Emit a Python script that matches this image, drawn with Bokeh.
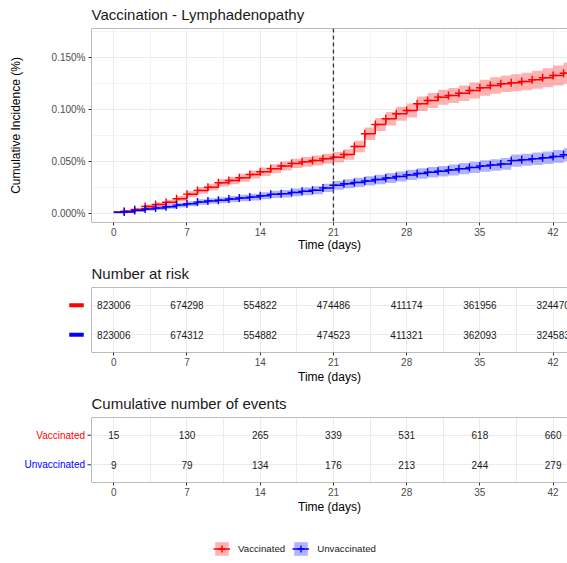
from bokeh.plotting import figure
from bokeh.models import (Range1d, FixedTicker, PrintfTickFormatter, Span,
                          Legend, LegendItem, ColumnDataSource)
from bokeh.layouts import column, row
from bokeh.embed import file_html
from bokeh.resources import INLINE

FONT = "Liberation Sans"
RED = "#FF0000"
BLUE = "#0000FF"

# ---------------- data ----------------
days = list(range(45))
vacc_ci = [0.0017, 0.0027, 0.0043, 0.0072, 0.0091, 0.0113, 0.0146, 0.0190, 0.0226, 0.0257,
           0.0299, 0.0321, 0.0347, 0.0379, 0.0405, 0.0435, 0.0460, 0.0485, 0.0500, 0.0513,
           0.0530, 0.0545, 0.0571, 0.0648, 0.0770, 0.0859, 0.0914, 0.0962, 0.0993, 0.1058,
           0.1089, 0.1121, 0.1137, 0.1159, 0.1185, 0.1211, 0.1233, 0.1250, 0.1259, 0.1272,
           0.1288, 0.1307, 0.1329, 0.1351, 0.1360]
vacc_hw = [0.0010, 0.0012, 0.0015, 0.0019, 0.0021, 0.0024, 0.0026, 0.0029, 0.0031, 0.0033,
           0.0035, 0.0036, 0.0038, 0.0039, 0.0041, 0.0042, 0.0044, 0.0045, 0.0046, 0.0047,
           0.0048, 0.0049, 0.0051, 0.0055, 0.0060, 0.0063, 0.0065, 0.0067, 0.0068, 0.0070,
           0.0071, 0.0072, 0.0073, 0.0074, 0.0076, 0.0077, 0.0079, 0.0080, 0.0082, 0.0084,
           0.0087, 0.0091, 0.0096, 0.0101, 0.0104]
unvacc_ci = [0.0017, 0.0019, 0.0034, 0.0047, 0.0056, 0.0069, 0.0085, 0.0098, 0.0114, 0.0124,
             0.0132, 0.0143, 0.0153, 0.0162, 0.0175, 0.0188, 0.0195, 0.0207, 0.0217, 0.0227,
             0.0250, 0.0275, 0.0290, 0.0303, 0.0317, 0.0331, 0.0345, 0.0360, 0.0375, 0.0388,
             0.0400, 0.0410, 0.0422, 0.0435, 0.0447, 0.0460, 0.0470, 0.0480, 0.0512, 0.0520,
             0.0530, 0.0540, 0.0552, 0.0568, 0.0575]
unvacc_hw = [0.0010, 0.0011, 0.0014, 0.0016, 0.0018, 0.0020, 0.0022, 0.0024, 0.0026, 0.0027,
             0.0028, 0.0030, 0.0031, 0.0032, 0.0033, 0.0035, 0.0036, 0.0037, 0.0038, 0.0039,
             0.0040, 0.0042, 0.0043, 0.0044, 0.0045, 0.0046, 0.0047, 0.0048, 0.0049, 0.0050,
             0.0051, 0.0051, 0.0052, 0.0053, 0.0054, 0.0055, 0.0056, 0.0056, 0.0058, 0.0058,
             0.0059, 0.0060, 0.0061, 0.0063, 0.0064]
second_dose_day = 21

x_ticks = [0, 7, 14, 21, 28, 35, 42]
x_minor = [3.5, 10.5, 17.5, 24.5, 31.5, 38.5]
y_ticks = [0, 0.05, 0.10, 0.15]
y_minor = [0.025, 0.075, 0.125, 0.175]

table_days = [0, 7, 14, 21, 28, 35, 42]
risk_vacc = [823006, 674298, 554822, 474486, 411174, 361956, 324470]
risk_unvacc = [823006, 674312, 554882, 474523, 411321, 362093, 324583]
events_vacc = [15, 130, 265, 339, 531, 618, 660]
events_unvacc = [9, 79, 134, 176, 213, 244, 279]
groups = ["Vaccinated", "Unvaccinated"]
group_colors = [RED, BLUE]

# ---------------- layout constants ----------------
W = 567
LEFT = 91
PX_PER_DAY = 10.46
X_START = -2.13
X_END = X_START + (W - LEFT) / PX_PER_DAY
BORDER = "#7a7a7a"
GRID = "#EBEBEB"
MINOR = "#F3F3F3"
TICKLAB = "#4D4D4D"
TXT = "#1a1a1a"


def style_xaxis(p, title_standoff):
    p.xaxis.ticker = FixedTicker(ticks=x_ticks, minor_ticks=x_minor)
    ax = p.xaxis[0]
    ax.axis_line_color = None
    ax.major_tick_line_color = "#333333"
    ax.major_tick_out = 3
    ax.major_tick_in = 0
    ax.minor_tick_line_color = None
    ax.major_label_text_font = FONT
    ax.major_label_text_font_size = "10px"
    ax.major_label_text_color = TICKLAB
    ax.major_label_standoff = 1
    ax.axis_label = "Time (days)"
    ax.axis_label_text_font = FONT
    ax.axis_label_text_font_size = "12px"
    ax.axis_label_text_font_style = "normal"
    ax.axis_label_text_color = "black"
    ax.axis_label_standoff = title_standoff
    p.xgrid.grid_line_color = GRID
    p.ygrid.grid_line_color = GRID


def style_title(p):
    p.title.text_font = FONT
    p.title.text_font_size = "15px"
    p.title.text_font_style = "normal"
    p.title.text_color = TXT
    p.title.vertical_align = "top"
    p.title.standoff = 8


def borders(p, y_range):
    p.outline_line_color = None
    p.add_layout(Span(location=X_START, dimension="height", line_color=BORDER, line_width=1))
    p.add_layout(Span(location=y_range.start, dimension="width", line_color=BORDER, line_width=1))
    p.add_layout(Span(location=y_range.end, dimension="width", line_color=BORDER, line_width=1))


# ---------------- main curve plot ----------------
yr1 = Range1d(-0.0082, 0.178)
p1 = figure(width=W, height=258, x_range=Range1d(X_START, X_END), y_range=yr1,
            toolbar_location=None, output_backend="svg", title="Vaccination - Lymphadenopathy",
            min_border_left=LEFT, min_border_right=0, min_border_top=28, min_border_bottom=36)
style_title(p1)
style_xaxis(p1, -1)
p1.xgrid.minor_grid_line_color = MINOR
borders(p1, yr1)
ya = p1.yaxis[0]
ya.ticker = FixedTicker(ticks=y_ticks, minor_ticks=y_minor)
ya.formatter = PrintfTickFormatter(format="%.3f%%")
ya.axis_line_color = None
ya.major_tick_line_color = "#333333"
ya.major_tick_out = 3
ya.major_tick_in = 0
ya.minor_tick_line_color = None
ya.major_label_text_font = FONT
ya.major_label_text_font_size = "10px"
ya.major_label_text_color = TICKLAB
ya.major_label_standoff = 2
ya.axis_label = "Cumulative Incidence (%)"
ya.axis_label_text_font = FONT
ya.axis_label_text_font_size = "12px"
ya.axis_label_text_font_style = "normal"
ya.axis_label_text_color = "black"
ya.axis_label_standoff = 26
p1.ygrid.minor_grid_line_color = MINOR

src_v = ColumnDataSource(dict(day=days, ci=vacc_ci,
                              lo=[c - h for c, h in zip(vacc_ci, vacc_hw)],
                              hi=[c + h for c, h in zip(vacc_ci, vacc_hw)]))
src_u = ColumnDataSource(dict(day=days, ci=unvacc_ci,
                              lo=[c - h for c, h in zip(unvacc_ci, unvacc_hw)],
                              hi=[c + h for c, h in zip(unvacc_ci, unvacc_hw)]))
cens_v = ColumnDataSource(dict(day=days[1:], ci=vacc_ci[1:]))
cens_u = ColumnDataSource(dict(day=days[1:], ci=unvacc_ci[1:]))


def draw_band(p, src, col):
    return p.varea_step(x="day", y1="lo", y2="hi", step_mode="after", source=src,
                        fill_color=col, fill_alpha=0.3)


def draw_lines(p, src, cens, col):
    l = p.step(x="day", y="ci", mode="after", source=src, line_color=col, line_width=1.5)
    s = p.scatter(x="day", y="ci", source=cens, marker="cross", size=8, line_color=col,
                  line_width=1.4)
    return l, s


draw_band(p1, src_v, RED)
draw_band(p1, src_u, BLUE)
draw_lines(p1, src_v, cens_v, RED)
draw_lines(p1, src_u, cens_u, BLUE)

p1.add_layout(Span(location=second_dose_day, dimension="height", line_color="#333333",
                   line_width=1.3, line_dash="4 3"))

# ---------------- tables ----------------
row_y = [2, 1]
TAB_H = 130
TAB_TOP = 29
TAB_BOT = 36


def table_fig(title, rows):
    yr = Range1d(0.4, 2.6)
    p = figure(width=W - LEFT, height=TAB_H, x_range=Range1d(X_START, X_END), y_range=yr,
               toolbar_location=None, output_backend="svg", title=title,
               y_axis_location=None,
               min_border_left=0, min_border_right=0, min_border_top=TAB_TOP,
               min_border_bottom=TAB_BOT)
    style_title(p)
    style_xaxis(p, 1)
    p.xgrid.minor_grid_line_color = GRID
    p.ygrid.ticker = FixedTicker(ticks=row_y)
    borders(p, yr)
    for vals, yy in zip(rows, row_y):
        s = ColumnDataSource(dict(x=table_days, y=[yy] * len(table_days),
                                  t=[str(v) for v in vals]))
        p.text(x="x", y="y", text="t", source=s, text_align="center",
               text_baseline="middle", text_font_size="10px", text_color=TXT,
               text_font={"value": FONT})
    return p


def label_fig():
    p = figure(width=LEFT, height=TAB_H, x_range=Range1d(0, LEFT), y_range=Range1d(0.4, 2.6),
               toolbar_location=None, output_backend="svg",
               x_axis_location=None, y_axis_location=None,
               min_border_left=0, min_border_right=0, min_border_top=TAB_TOP,
               min_border_bottom=TAB_BOT)
    p.grid.visible = False
    p.outline_line_color = None
    return p


p2 = table_fig("Number at risk", [risk_vacc, risk_unvacc])
l2 = label_fig()
l2.rect(x=[76] * 2, y=row_y, width=14.5, height=4, width_units="screen",
        height_units="screen", fill_color=group_colors, line_color=None)

p3 = table_fig("Cumulative number of events", [events_vacc, events_unvacc])
l3 = label_fig()
l3.text(x=[LEFT - 6.5] * 2, y=row_y, text=groups, text_color=group_colors, text_align="right",
        text_baseline="middle", text_font_size="10px", text_font={"value": FONT})
l3.segment(x0=[LEFT - 4] * 2, x1=[LEFT] * 2, y0=row_y, y1=row_y, line_color="#333333",
           line_width=1)

# ---------------- legend ----------------
p4 = figure(width=W, height=45, x_range=Range1d(1000, 1001), y_range=Range1d(0, 1),
            toolbar_location=None, output_backend="svg",
            min_border_left=LEFT, min_border_right=0, min_border_top=15, min_border_bottom=0,
            x_axis_location=None, y_axis_location=None)
p4.grid.visible = False
p4.outline_line_color = None
items = []
for g, src, cens, col in [("Vaccinated", src_v, cens_v, RED), ("Unvaccinated", src_u, cens_u, BLUE)]:
    ra = draw_band(p4, src, col)
    rl, rs = draw_lines(p4, src, cens, col)
    items.append(LegendItem(label=g, renderers=[ra, rl, rs]))
leg = Legend(items=items, orientation="horizontal", location=(122, 6), padding=0, margin=0,
             spacing=7, glyph_width=17, glyph_height=17, label_standoff=8,
             label_text_font=FONT, label_text_font_size="9.7px", label_text_color=TXT,
             border_line_color=None, background_fill_alpha=0)
p4.add_layout(leg)

layout = column(p1, row(l2, p2, spacing=0), row(l3, p3, spacing=0), p4, spacing=0)
open("out.html", "w").write(file_html(layout, INLINE))
